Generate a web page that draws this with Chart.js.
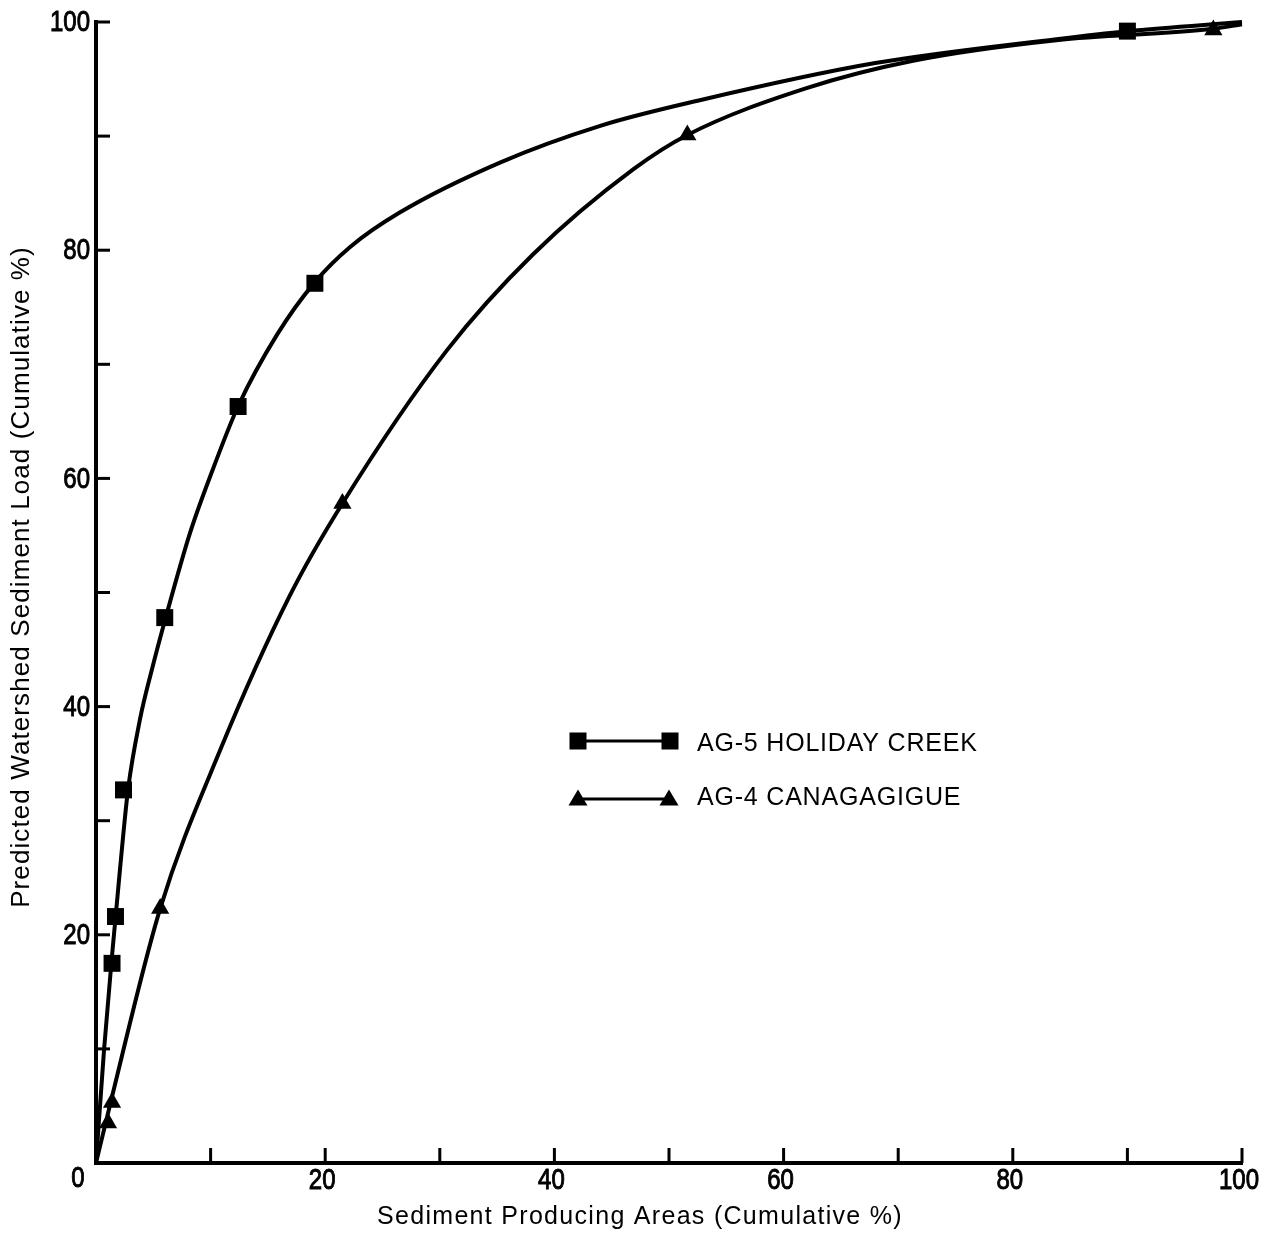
<!DOCTYPE html>
<html>
<head>
<meta charset="utf-8">
<title>Sediment Load vs Producing Areas</title>
<script src="https://cdn.jsdelivr.net/npm/chart.js@4.4.1/dist/chart.umd.min.js"></script>
<style>
  body { margin: 0; background: #fff; }
  #chart { display: block; }
</style>
</head>
<body>
<canvas id="chart" width="1276" height="1234"></canvas>
<script>
'use strict'

// plotted observations (cumulative %)
const holidayArea = [1.4, 1.7, 2.4, 6.0, 12.4, 19.1, 90.0];
const holidayLoad = [17.5, 21.6, 32.7, 47.8, 66.3, 77.1, 99.2];
const canagaArea = [1.05, 1.4, 5.6, 21.5, 51.6, 97.5];
const canagaLoad = [3.5, 5.3, 22.3, 57.8, 90.1, 99.3];

// hand fitted curves
const holidayCurveX = [0, 0.7, 1.4, 2.09, 2.79, 3.84, 4.89, 6.11, 8.2, 10.2, 12.39, 15.8, 19.1, 22.2, 26.5, 35.3, 44.0, 52.5, 68.0, 83.8, 90.0, 100];
const holidayCurveY = [0, 9.9, 18.2, 25.7, 32.7, 38.9, 43.3, 47.9, 55.2, 60.8, 66.3, 72.6, 77.2, 80.3, 83.3, 87.7, 90.9, 93.1, 96.4, 98.5, 99.2, 100];
const canagaCurveX = [0, 1.2, 5.6, 10.8, 16.9, 21.5, 30.6, 38.1, 46.9, 51.6, 62.0, 71.3, 83.8, 97.5, 100];
const canagaCurveY = [0, 5.0, 22.3, 36.1, 49.7, 57.8, 71.2, 79.6, 87.1, 90.1, 94.2, 96.6, 98.4, 99.4, 99.8];

const tickValues = [20, 40, 60, 80, 100];
const seriesNames = ['AG-5 HOLIDAY CREEK', 'AG-4 CANAGAGIGUE'];
const xTitle = 'Sediment Producing Areas (Cumulative %)';
const yTitle = 'Predicted Watershed Sediment Load (Cumulative %)';

const textFont = "'Liberation Sans', Arial, sans-serif";

function toPoints(xs, ys){
  return xs.map((x, i) => ({x: x, y: ys[i]}));
}

function drawSquare(ctx, x, y, side){
  ctx.fillRect(x - side / 2, y - side / 2, side, side);
}

function drawTriangle(ctx, x, y, w, h){
  ctx.beginPath();
  ctx.moveTo(x, y - h * 0.6);
  ctx.lineTo(x + w / 2, y + h * 0.4);
  ctx.lineTo(x - w / 2, y + h * 0.4);
  ctx.closePath();
  ctx.fill();
}

// narrow numerals for the axis labels
function narrowText(ctx, text, x, y, align){
  ctx.save();
  ctx.translate(x, y);
  ctx.scale(0.8, 1);
  ctx.textAlign = align;
  ctx.lineWidth = 1;
  ctx.fillText(text, 0, 0);
  ctx.strokeText(text, 0, 0);
  ctx.restore();
}

// inward tick marks, tick numbers, axis titles and the key
const extras = {
  id: 'extras',
  afterDraw(chart){
    const ctx = chart.ctx;
    const xs = chart.scales.x;
    const ys = chart.scales.y;
    const area = chart.chartArea;
    ctx.save();
    ctx.strokeStyle = '#000';
    ctx.fillStyle = '#000';
    ctx.lineWidth = 3;

    xs.ticks.forEach(t => {
      if (t.value === 0) return;
      const px = xs.getPixelForValue(t.value);
      ctx.beginPath();
      ctx.moveTo(px, area.bottom);
      ctx.lineTo(px, area.bottom - 15);
      ctx.stroke();
    });
    ys.ticks.forEach(t => {
      if (t.value === 0) return;
      const py = ys.getPixelForValue(t.value);
      ctx.beginPath();
      ctx.moveTo(area.left, py);
      ctx.lineTo(area.left + 14, py);
      ctx.stroke();
    });

    // tick numbers, with one shared zero at the origin
    ctx.font = '30px ' + textFont;
    ctx.textBaseline = 'middle';
    tickValues.forEach(v => {
      narrowText(ctx, String(v), xs.getPixelForValue(v) - 3, area.bottom + 18, 'center');
      narrowText(ctx, String(v), area.left - 6, ys.getPixelForValue(v) + 1, 'right');
    });
    narrowText(ctx, '0', area.left - 18, area.bottom + 16, 'center');

    // axis titles
    ctx.textAlign = 'center';
    ctx.font = '25px ' + textFont;
    ctx.letterSpacing = '1.3px';
    ctx.fillText(xTitle, 640, 1217);
    ctx.save();
    ctx.translate(22, 577);
    ctx.rotate(-Math.PI / 2);
    ctx.font = '26px ' + textFont;
    ctx.letterSpacing = '1.1px';
    ctx.fillText(yTitle, 0, 0);
    ctx.restore();

    // key
    const keyLeft = 578, keyRight = 670, rows = [741, 799];
    ctx.lineWidth = 3;
    rows.forEach(ry => {
      ctx.beginPath();
      ctx.moveTo(keyLeft, ry);
      ctx.lineTo(keyRight, ry);
      ctx.stroke();
    });
    drawSquare(ctx, keyLeft, rows[0], 17);
    drawSquare(ctx, keyRight, rows[0], 17);
    drawTriangle(ctx, keyLeft, rows[1], 19, 16);
    drawTriangle(ctx, keyRight - 1, rows[1], 19, 16);

    ctx.font = '25px ' + textFont;
    ctx.letterSpacing = '0.8px';
    ctx.textAlign = 'left';
    ctx.fillText(seriesNames[0], 697, rows[0] + 3);
    ctx.fillText(seriesNames[1], 697, rows[1] - 1);
    ctx.restore();
  }
};

const ctx = document.getElementById('chart').getContext('2d');

const myChart = new Chart(ctx, {
  type: 'scatter',
  data: {
    datasets: [
      {
        label: seriesNames[0] + ' curve',
        data: toPoints(holidayCurveX, holidayCurveY),
        showLine: true,
        borderColor: '#000',
        borderWidth: 4,
        pointRadius: 0,
        cubicInterpolationMode: 'monotone',
        order: 2
      },
      {
        label: seriesNames[1] + ' curve',
        data: toPoints(canagaCurveX, canagaCurveY),
        showLine: true,
        borderColor: '#000',
        borderWidth: 4,
        pointRadius: 0,
        cubicInterpolationMode: 'monotone',
        order: 2
      },
      {
        label: seriesNames[0],
        data: toPoints(holidayArea, holidayLoad),
        pointStyle: 'rect',
        pointRadius: 12,
        backgroundColor: '#000',
        borderWidth: 0,
        order: 1
      },
      {
        label: seriesNames[1],
        data: toPoints(canagaArea, canagaLoad),
        pointStyle: 'triangle',
        pointRadius: 10.5,
        backgroundColor: '#000',
        borderWidth: 0,
        order: 1
      }
    ]
  },
  options: {
    responsive: false,
    devicePixelRatio: 1,
    animation: false,
    clip: false,
    layout: {
      padding: {top: 22, right: 34, left: 0, bottom: 0}
    },
    plugins: {
      legend: {display: false},
      tooltip: {enabled: false}
    },
    scales: {
      x: {
        type: 'linear',
        min: 0,
        max: 100,
        afterFit: function(scale){ scale.height = 71; },
        grid: {display: false, drawTicks: false},
        border: {display: true, width: 4, color: '#000'},
        ticks: {stepSize: 10, autoSkip: false, display: false}
      },
      y: {
        type: 'linear',
        min: 0,
        max: 100,
        afterFit: function(scale){ scale.width = 96; },
        grid: {display: false, drawTicks: false},
        border: {display: true, width: 4, color: '#000'},
        ticks: {stepSize: 10, autoSkip: false, display: false}
      }
    }
  },
  plugins: [extras]
});
</script>
</body>
</html>
